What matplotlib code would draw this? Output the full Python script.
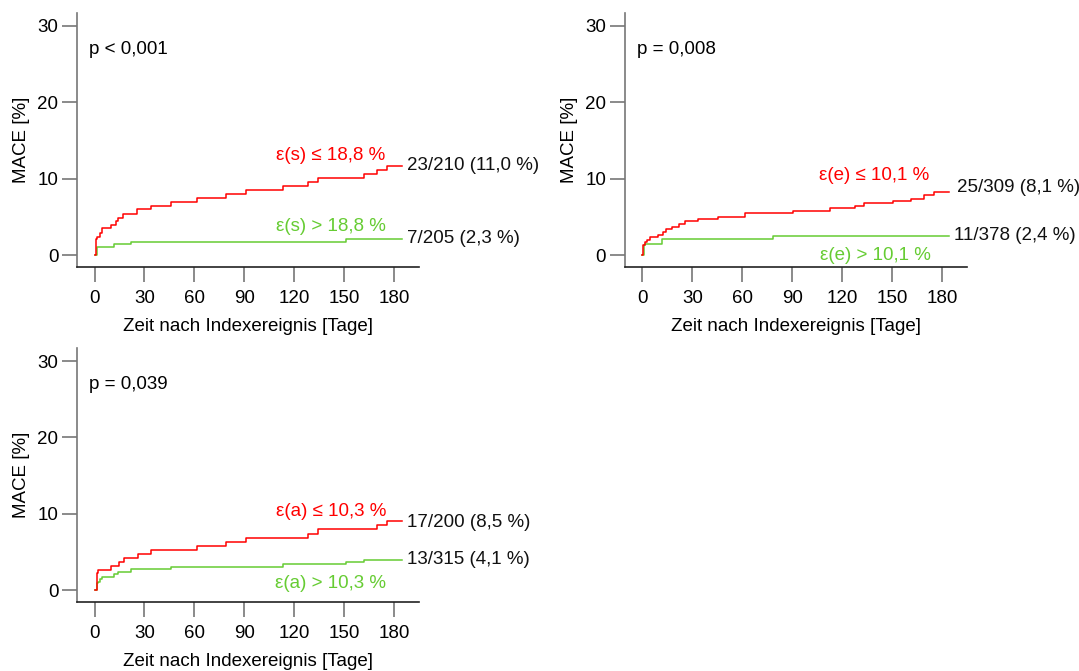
import matplotlib
matplotlib.use("Agg")
import matplotlib.pyplot as plt  # noqa: E402

plt.rcParams["font.family"] = ["Liberation Sans", "DejaVu Sans"]

RED = "#ff0000"
GREEN = "#66cc33"

# Panel 1: epsilon(s)
s_low_t = [0, 0.7, 1.3, 3.3, 4.5, 9.8, 13, 14.4, 17.4, 25.8, 33.9, 46, 61.7, 78.8, 90.8,
           113, 128, 134, 162, 170, 176, 185]
s_low_y = [0, 2.05, 2.4, 2.9, 3.5, 3.9, 4.4, 4.9, 5.4, 6.0, 6.4, 7.0, 7.5, 8.0, 8.5,
           9.0, 9.6, 10.05, 10.6, 11.1, 11.65, 11.65]
s_high_t = [0, 1.6, 12, 22, 151, 185]
s_high_y = [0, 1.1, 1.45, 1.75, 2.1, 2.1]

# Panel 2: epsilon(e)
e_low_t = [0, 0.4, 1.4, 2.8, 4.8, 9.4, 12.4, 14.4, 18, 22, 25.4, 33.4, 45.4, 61.4, 90.4,
           112.4, 128, 133.4, 150.4, 161.4, 169.4, 175.4, 184.4]
e_low_y = [0, 1.3, 1.75, 2.0, 2.3, 2.6, 3.05, 3.4, 3.7, 4.05, 4.4, 4.7, 5.0, 5.45, 5.75,
           6.1, 6.4, 6.8, 7.1, 7.4, 7.8, 8.2, 8.2]
e_high_t = [0, 0.8, 1.8, 11.8, 78.4, 184.4]
e_high_y = [0, 1.3, 1.5, 2.05, 2.5, 2.5]

# Panel 3: epsilon(a)
a_low_t = [0, 1.2, 2, 10, 15, 18, 26, 34, 61.7, 78.8, 90.8, 128, 134, 170, 176, 185]
a_low_y = [0, 2.25, 2.6, 3.1, 3.7, 4.15, 4.7, 5.2, 5.75, 6.3, 6.85, 7.4, 7.95, 8.5, 9.05, 9.05]
a_high_t = [0, 1.2, 2, 3.2, 4.6, 11.6, 14, 22, 46, 113, 151, 162, 185]
a_high_y = [0, 0.9, 1.1, 1.4, 1.75, 2.1, 2.4, 2.7, 3.05, 3.4, 3.7, 4.0, 4.0]

panels = [
    dict(rect=[0.0714, 0.6021, 0.317, 0.3785], p="p < 0,001",
         low=(s_low_t, s_low_y), high=(s_high_t, s_high_y),
         low_lab=("ε(s) ≤ 18,8 %", 142, 13.1), high_lab=("ε(s) > 18,8 %", 142, 3.67),
         low_n=("23/210 (11,0 %)", 187.6, 11.66), high_n=("7/205 (2,3 %)", 187.6, 2.2)),
    dict(rect=[0.5792, 0.6021, 0.317, 0.3785], p="p = 0,008",
         low=(e_low_t, e_low_y), high=(e_high_t, e_high_y),
         low_lab=("ε(e) ≤ 10,1 %", 139.5, 10.35), high_lab=("ε(e) > 10,1 %", 140, 0.0),
         low_n=("25/309 (8,1 %)", 189, 8.8), high_n=("11/378 (2,4 %)", 187.4, 2.5)),
    dict(rect=[0.0714, 0.1028, 0.317, 0.3785], p="p = 0,039",
         low=(a_low_t, a_low_y), high=(a_high_t, a_high_y),
         low_lab=("ε(a) ≤ 10,3 %", 142, 10.35), high_lab=("ε(a) > 10,3 %", 142, 0.8),
         low_n=("17/200 (8,5 %)", 187.6, 8.8), high_n=("13/315 (4,1 %)", 187.6, 4.06)),
]

FS = 13.5

fig = plt.figure(figsize=(10.79, 6.71), dpi=100)
for pan in panels:
    ax = fig.add_axes(pan["rect"])
    ax.step(*pan["high"], where="post", color=GREEN, lw=1.1, clip_on=False)
    ax.step(*pan["low"], where="post", color=RED, lw=1.1, clip_on=False)

    ax.set_xlim(-10.5, 195)
    ax.set_ylim(-1.57, 31.7)
    ax.set_xticks(range(0, 181, 30))
    ax.set_yticks([0, 10, 20, 30])
    for side in ("top", "right"):
        ax.spines[side].set_visible(False)
    ax.spines["left"].set_color("#777777")
    ax.spines["left"].set_linewidth(1.2)
    ax.spines["bottom"].set_color("#222222")
    ax.spines["bottom"].set_linewidth(1.2)
    ax.tick_params(axis="y", color="#777777", length=10.5, width=1.2, pad=3, labelsize=FS)
    ax.tick_params(axis="x", color="#777777", length=10.5, width=1.2, pad=6, labelsize=FS)

    ax.set_ylabel("MACE [%]", fontsize=FS)
    ax.yaxis.set_label_coords(-0.138, 0.5)
    ax.set_xlabel("Zeit nach Indexereignis [Tage]", fontsize=FS)
    ax.xaxis.set_label_coords(0.5, -0.2)

    ax.text(0.035, 0.855, pan["p"], transform=ax.transAxes, fontsize=FS, va="center")
    txt, x, y = pan["low_lab"]
    ax.text(x, y, txt, color=RED, fontsize=FS, ha="center", va="center")
    txt, x, y = pan["high_lab"]
    ax.text(x, y, txt, color=GREEN, fontsize=FS, ha="center", va="center")
    for key in ("low_n", "high_n"):
        txt, x, y = pan[key]
        ax.text(x, y, txt, color="#111111", fontsize=FS, ha="left", va="center", clip_on=False)

fig.savefig("out.png", dpi=100)
